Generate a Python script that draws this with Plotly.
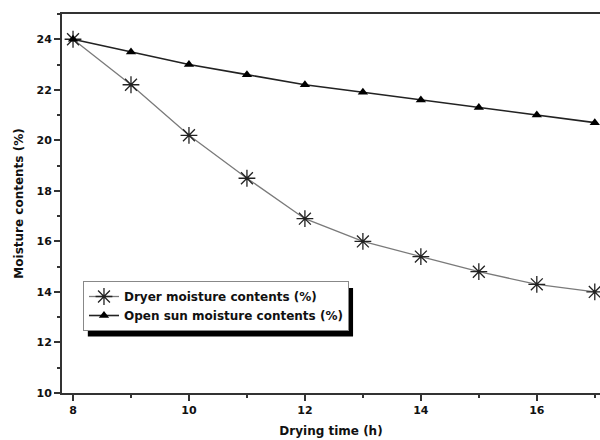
import plotly.graph_objects as go

drying_time = [8, 9, 10, 11, 12, 13, 14, 15, 16, 17]
dryer_mc = [24.0, 22.2, 20.2, 18.5, 16.9, 16.0, 15.4, 14.8, 14.3, 14.0]
open_sun_mc = [24.0, 23.5, 23.0, 22.6, 22.2, 21.9, 21.6, 21.3, 21.0, 20.7]
x_ticks = [8, 10, 12, 14, 16]
y_ticks = [10, 12, 14, 16, 18, 20, 22, 24]

FONT = "DejaVu Sans, Verdana, sans-serif"
AX = "#333333"

fig = go.Figure()
fig.add_trace(go.Scatter(
    x=drying_time, y=dryer_mc, mode="lines+markers",
    name="<b>Dryer moisture contents (%)</b>",
    line=dict(color="#7a7a7a", width=1.3),
    marker=dict(symbol="asterisk-open", size=14, color="#222222",
                line=dict(color="#222222", width=1.3)),
))
fig.add_trace(go.Scatter(
    x=drying_time, y=open_sun_mc, mode="lines+markers",
    name="<b>Open sun moisture contents (%)</b>",
    line=dict(color="#222222", width=1.6),
    marker=dict(symbol="triangle-up", size=9, color="#000000"),
))

# legend drop shadow
fig.add_shape(type="rect", xref="paper", yref="paper",
              x0=0.048, x1=0.541, y0=0.149, y1=0.277,
              fillcolor="#000000", line=dict(width=0), layer="above")

fig.update_layout(
    width=600, height=440,
    margin=dict(l=62, r=0, t=14, b=47),
    paper_bgcolor="white", plot_bgcolor="white",
    font=dict(family=FONT, size=12, color="#111111"),
    showlegend=True,
    legend=dict(x=0.039, y=0.2955, xanchor="left", yanchor="top",
                bgcolor="white", bordercolor="#888888", borderwidth=1,
                font=dict(family=FONT, size=12, color="#111111"),
                itemwidth=30, tracegroupgap=0),
    xaxis=dict(range=[7.81, 17.09], showgrid=False, zeroline=False, automargin=False,
               tickvals=x_ticks, ticktext=["<b>%d</b>" % v for v in x_ticks],
               ticks="outside", ticklen=6, tickwidth=2, tickcolor=AX,
               minor=dict(tickvals=[9, 11, 13, 15, 17], ticks="outside", ticklen=3, tickwidth=2, tickcolor=AX),
               showline=True, linewidth=2, linecolor=AX, mirror=True,
               title=dict(text="<b>Drying time (h)</b>", font=dict(family=FONT, size=12), standoff=10),
               tickfont=dict(family=FONT, size=11)),
    yaxis=dict(range=[10, 25], showgrid=False, zeroline=False, automargin=False,
               tickvals=y_ticks, ticktext=["<b>%d</b>" % v for v in y_ticks],
               ticks="outside", ticklen=6, tickwidth=2, tickcolor=AX,
               minor=dict(tickvals=[11, 13, 15, 17, 19, 21, 23, 25], ticks="outside", ticklen=3, tickwidth=2, tickcolor=AX),
               showline=True, linewidth=2, linecolor=AX,
               title=dict(text="<b>Moisture contents (%)</b>", font=dict(family=FONT, size=12), standoff=10),
               tickfont=dict(family=FONT, size=11)),
)

fig.write_html("out.html", config={"displayModeBar": False},
               post_script="document.body.style.margin='0';")
